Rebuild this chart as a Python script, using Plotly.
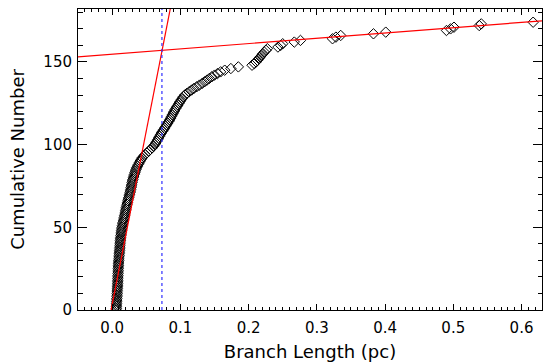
import plotly.graph_objects as go

branch_length = [
    0.0060, 0.0062, 0.0063, 0.0064, 0.0065, 0.0066, 0.0068, 0.0069, 0.0071, 0.0073,
    0.0074, 0.0075, 0.0076, 0.0078, 0.0079, 0.0080, 0.0081, 0.0082, 0.0083, 0.0084,
    0.0085, 0.0086, 0.0087, 0.0088, 0.0089, 0.0090, 0.0091, 0.0093, 0.0094, 0.0095,
    0.0097, 0.0099, 0.0101, 0.0103, 0.0105, 0.0107, 0.0109, 0.0111, 0.0113, 0.0115,
    0.0117, 0.0119, 0.0121, 0.0123, 0.0126, 0.0129, 0.0132, 0.0135, 0.0138, 0.0141,
    0.0145, 0.0150, 0.0155, 0.0160, 0.0166, 0.0172, 0.0178, 0.0183, 0.0188, 0.0193,
    0.0198, 0.0203, 0.0208, 0.0213, 0.0219, 0.0225, 0.0231, 0.0237, 0.0243, 0.0250,
    0.0256, 0.0262, 0.0268, 0.0273, 0.0278, 0.0283, 0.0288, 0.0293, 0.0298, 0.0304,
    0.0310, 0.0318, 0.0326, 0.0334, 0.0342, 0.0350, 0.0360, 0.0372, 0.0385, 0.0398,
    0.0410, 0.0425, 0.0440, 0.0462, 0.0485, 0.0510, 0.0535, 0.0560, 0.0585, 0.0605,
    0.0625, 0.0640, 0.0655, 0.0668, 0.0682, 0.0695, 0.0708, 0.0722, 0.0738, 0.0755,
    0.0770, 0.0785, 0.0800, 0.0815, 0.0830, 0.0845, 0.0858, 0.0870, 0.0882, 0.0895,
    0.0908, 0.0920, 0.0935, 0.0950, 0.0965, 0.0980, 0.0995, 0.1010, 0.1028, 0.1045,
    0.1065, 0.1095, 0.1130, 0.1165, 0.1200, 0.1240, 0.1280, 0.1320, 0.1355, 0.1390,
    0.1425, 0.1460, 0.1500, 0.1545, 0.1590, 0.1650, 0.1740, 0.1850, 0.2050, 0.2085,
    0.2110, 0.2130, 0.2150, 0.2170, 0.2190, 0.2210, 0.2230, 0.2255, 0.2275, 0.2430,
    0.2470, 0.2500, 0.2670, 0.2760, 0.3230, 0.3280, 0.3350, 0.3830, 0.4010, 0.4900,
    0.4960, 0.5010, 0.5380, 0.5410, 0.6170,
]
cumulative_number = list(range(len(branch_length)))

# linear fits: y = slope * x + intercept
fit_short = {"slope": 2100.0, "intercept": 3.15}
fit_long = {"slope": 32.0, "intercept": 154.7}
break_length = 0.073

x_range = [-0.05, 0.63]
y_range = [0, 182]

fig = go.Figure()
fig.add_trace(go.Scatter(
    x=branch_length, y=cumulative_number, mode="markers",
    marker=dict(symbol="diamond-open", size=8, color="black", line=dict(width=1, color="black")),
    showlegend=False,
))
for fit in (fit_short, fit_long):
    fig.add_trace(go.Scatter(
        x=x_range, y=[fit["slope"] * xv + fit["intercept"] for xv in x_range],
        mode="lines", line=dict(color="red", width=1.2), showlegend=False,
    ))
fig.add_trace(go.Scatter(
    x=[break_length, break_length], y=y_range, mode="lines",
    line=dict(color="#3030ff", width=1.2, dash="dot"), showlegend=False,
))

font = dict(family="DejaVu Sans", size=15, color="black")
fig.update_layout(
    width=544, height=362,
    margin=dict(l=78, r=2, t=9, b=52),
    paper_bgcolor="white", plot_bgcolor="white",
    font=font,
    xaxis=dict(
        range=x_range, showgrid=False, zeroline=False,
        showline=True, linecolor="black", linewidth=1, mirror="ticks",
        ticks="inside", ticklen=6, tickcolor="black", dtick=0.1, tick0=0,
        tickformat=".1f", ticklabelstandoff=4,
        minor=dict(ticks="inside", ticklen=3, dtick=0.01, tick0=0, tickcolor="black", showgrid=False),
        title=dict(text="Branch Length (pc)", standoff=10),
    ),
    yaxis=dict(
        range=y_range, showgrid=False, zeroline=False,
        showline=True, linecolor="black", linewidth=1, mirror="ticks",
        ticks="inside", ticklen=9, tickcolor="black", dtick=50, tick0=0,
        ticklabelstandoff=2,
        minor=dict(ticks="inside", ticklen=4.5, dtick=10, tick0=0, tickcolor="black", showgrid=False),
        title=dict(text="Cumulative Number", standoff=14),
    ),
)
fig.write_html("out.html")
